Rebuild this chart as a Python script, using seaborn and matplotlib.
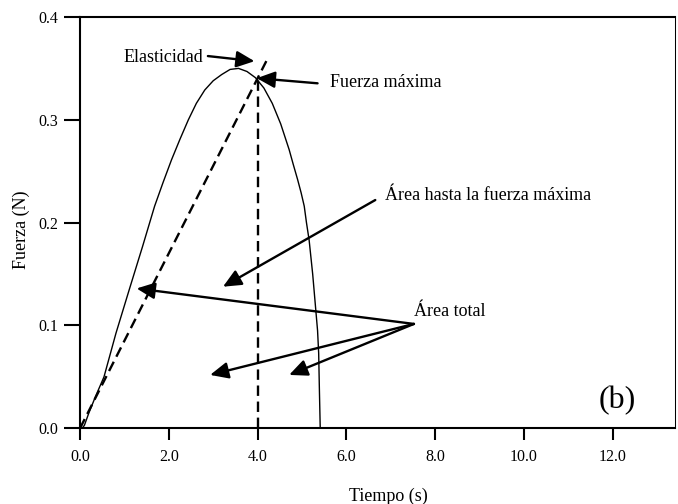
import matplotlib
matplotlib.use("Agg")
import matplotlib.pyplot as plt
import seaborn as sns

# ---- data ----
tiempo = [0.05, 0.10, 0.20, 0.35, 0.54, 0.81, 1.11, 1.41, 1.68, 1.87, 2.06, 2.25,
          2.44, 2.62, 2.81, 3.00, 3.19, 3.38, 3.57, 3.76, 3.95, 4.14, 4.33, 4.52,
          4.71, 4.80, 4.90, 4.98, 5.05, 5.10, 5.16, 5.24, 5.31, 5.35, 5.375, 5.39,
          5.41]
fuerza = [0.000, 0.003, 0.015, 0.031, 0.050, 0.0925, 0.135, 0.177, 0.216, 0.239,
          0.261, 0.281, 0.300, 0.316, 0.329, 0.338, 0.344, 0.349, 0.350, 0.347,
          0.341, 0.331, 0.316, 0.296, 0.271, 0.257, 0.242, 0.229, 0.216, 0.200,
          0.183, 0.150, 0.115, 0.095, 0.073, 0.040, 0.000]

elasticidad_x = [0.0, 4.23]
elasticidad_y = [0.0, 0.36]
fmax_x = [4.0, 4.0]
fmax_y = [0.0, 0.34]

x_ticks = [0, 2, 4, 6, 8, 10, 12]
x_tick_labels = ["0.0", "2.0", "4.0", "6.0", "8.0", "10.0", "12.0"]
y_ticks = [0.0, 0.1, 0.2, 0.3, 0.4]
y_tick_labels = ["0.0", "0.1", "0.2", "0.3", "0.4"]

x_label = "Tiempo (s)"
y_label = "Fuerza (N)"

# annotation texts and anchor points (data coords)
labels = ["Elasticidad", "Fuerza máxima", "Área hasta la fuerza máxima", "Área total"]
label_x = [2.77, 5.63, 6.86, 7.52]
label_y = [0.3563, 0.332, 0.222, 0.1096]
label_ha = ["right", "left", "left", "left"]

arrow_tail_x = [2.88, 5.35, 6.65, 7.52, 7.52, 7.52]
arrow_tail_y = [0.362, 0.3355, 0.222, 0.1015, 0.1015, 0.1015]
arrow_tip_x = [3.93, 3.98, 3.22, 1.275, 2.93, 4.71]
arrow_tip_y = [0.357, 0.3405, 0.1377, 0.136, 0.0519, 0.0519]

panel_label = "(b)"

# ---- styling ----
sns.set_style("white")
plt.rcParams["font.family"] = ["Liberation Serif", "DejaVu Serif"]
plt.rcParams["text.color"] = "black"
plt.rcParams["axes.labelcolor"] = "black"
plt.rcParams["xtick.color"] = "black"
plt.rcParams["ytick.color"] = "black"
plt.rcParams["lines.solid_joinstyle"] = "round"

fig = plt.figure(figsize=(6.78, 5.04), dpi=100)
ax = fig.add_axes([0.118, 0.1502, 0.8776, 0.8161])

sns.lineplot(x=tiempo, y=fuerza, ax=ax, color="black", linewidth=1.0,
             estimator=None, sort=False)
sns.lineplot(x=elasticidad_x, y=elasticidad_y, ax=ax, color="black", linewidth=1.7,
             estimator=None, sort=False)
sns.lineplot(x=fmax_x, y=fmax_y, ax=ax, color="black", linewidth=1.7,
             estimator=None, sort=False)
for ln in ax.lines[1:3]:
    ln.set_linestyle((0, (4.4, 2.4)))

ax.set_xlim(0, 13.4)
ax.set_ylim(0, 0.4)
ax.set_xticks(x_ticks)
ax.set_xticklabels(x_tick_labels)
ax.set_yticks(y_ticks)
ax.set_yticklabels(y_tick_labels)

for s in ["left", "top", "bottom"]:
    ax.spines[s].set_linewidth(1.5)
    ax.spines[s].set_color("black")
ax.spines["right"].set_linewidth(0.75)
ax.spines["right"].set_color("black")

ax.tick_params(axis="y", direction="out", length=11.5, width=1.5, pad=4,
               labelsize=11.5, colors="black", left=True)
ax.tick_params(axis="x", direction="out", length=8.6, width=1.5, pad=6,
               labelsize=11.5, colors="black", bottom=True)

ax.set_xlabel(x_label, fontsize=13, color="black")
ax.set_ylabel(y_label, fontsize=13, color="black")
ax.xaxis.set_label_coords(0.518, -0.145)
ax.yaxis.set_label_coords(-0.084, 0.482)

for t, x, y, ha in zip(labels, label_x, label_y, label_ha):
    ax.text(x, y, t, ha=ha, va="baseline", fontsize=13, color="black")

for tx, ty, hx, hy in zip(arrow_tail_x, arrow_tail_y, arrow_tip_x, arrow_tip_y):
    ax.annotate("", xy=(hx, hy), xytext=(tx, ty),
                arrowprops=dict(arrowstyle="-|>,head_length=1.1,head_width=0.5",
                                mutation_scale=10, color="black", lw=1.7,
                                shrinkA=0, shrinkB=0))

ax.text(12.1, 0.0266, panel_label, ha="center", va="center", fontsize=23,
        color="black")

fig.savefig("out.png", dpi=100)
